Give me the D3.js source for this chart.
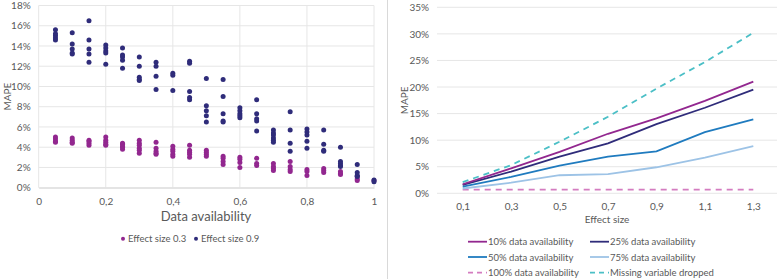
<!DOCTYPE html>
<html lang="en">
<head>
<meta charset="utf-8">
<title>MAPE by data availability and effect size</title>
<script src="https://d3js.org/d3.v7.min.js"></script>
<style>
    * { margin: 0; padding: 0; }
    body { width: 778px; height: 279px; background: #fff; overflow: hidden; }
    svg text { font-family: Lato, "Open Sans", sans-serif; fill: #595959; }
</style>
</head>
<body>
<div id="chart"></div>
<script>
    // left panel: MAPE per run, by data availability
    const availability = [0.05, 0.1, 0.15, 0.2, 0.25, 0.3, 0.35, 0.4, 0.45, 0.5,
                          0.55, 0.6, 0.65, 0.7, 0.75, 0.8, 0.85, 0.9, 0.95, 1];
    const effect03 = [
        [5.0, 4.8, 4.6, 4.5], [4.9, 4.7, 4.5, 4.4], [4.7, 4.6, 4.4, 4.2], [5.0, 4.7, 4.5, 4.3, 4.2],
        [4.4, 4.3, 4.1, 4.0, 3.8], [4.7, 4.4, 4.2, 3.9, 3.7, 3.4], [4.5, 3.9, 3.6, 3.4, 3.3],
        [4.1, 3.8, 3.6, 3.3, 3.1], [4.2, 3.7, 3.5, 3.3, 3.0], [3.7, 3.5, 3.3, 3.1],
        [3.1, 2.9, 2.6, 2.3], [3.0, 2.8, 2.5, 2.0], [2.9, 2.4, 2.2], [2.4, 2.1, 1.9, 1.7],
        [2.6, 2.1, 1.8, 1.6], [1.8, 1.6, 1.2], [1.9, 1.7, 1.5], [1.6, 1.4, 1.3],
        [1.1, 0.85, 0.7], [0.7]
    ];
    const effect09 = [
        [15.6, 15.2, 15.0, 14.8, 14.6], [15.3, 14.2, 13.7, 13.3, 13.2], [16.5, 14.6, 13.7, 13.2, 12.4],
        [14.1, 13.8, 13.5, 13.3, 12.2], [13.8, 13.1, 12.9, 12.6, 11.8], [12.9, 12.0, 10.9, 10.7, 10.6],
        [12.4, 12.0, 11.0, 9.7], [11.3, 11.1, 9.6], [12.5, 12.3, 9.5, 8.9, 8.7],
        [10.8, 8.1, 7.6, 7.1, 6.5], [10.7, 9.0, 7.3, 6.6, 6.5], [7.9, 7.6, 7.3, 7.1, 6.9],
        [8.7, 7.3, 6.8, 6.6, 5.6], [5.7, 5.4, 5.2, 4.9, 4.7, 4.5], [7.5, 5.7, 4.4, 3.6],
        [5.8, 5.5, 5.2, 4.6, 3.9], [5.7, 4.3, 3.7, 3.6], [4.0, 2.6, 2.4, 2.2, 2.1],
        [2.3, 1.5, 1.2, 1.1], [0.75, 0.6]
    ];
    const leftYTicks = [0, 2, 4, 6, 8, 10, 12, 14, 16, 18];
    const leftXTicks = [0, 0.2, 0.4, 0.6, 0.8, 1];

    // right panel: MAPE by effect size
    const effectSizes = ["0,1", "0,3", "0,5", "0,7", "0,9", "1,1", "1,3"];
    const avail10 = [1.7, 4.7, 7.8, 11.2, 14.1, 17.4, 21.0];
    const avail25 = [1.6, 4.1, 6.9, 9.4, 13.0, 16.1, 19.5];
    const avail50 = [1.25, 3.1, 5.2, 6.9, 7.9, 11.5, 13.9];
    const avail75 = [0.9, 2.0, 3.4, 3.6, 4.9, 6.7, 8.9];
    const avail100 = [0.7, 0.7, 0.7, 0.7, 0.7, 0.7, 0.7];
    const dropped = [2.1, 5.3, 9.7, 14.4, 19.7, 24.7, 30.2];
    const rightYTicks = [0, 5, 10, 15, 20, 25, 30, 35];

    const purple = "#92278f", navy = "#2f2c7a";
    const grid = "#e6e6e6";
    const comma = d => String(d).replace(".", ",");

    const svg = d3.select("#chart").append("svg")
        .attr("width", 778).attr("height", 279);

    // ---------- left scatter ----------
    const x1 = d3.scaleLinear().domain([0, 1]).range([38.7, 374]);
    const y1 = d3.scaleLinear().domain([0, 18]).range([187.7, 5.5]);

    const gl = svg.append("g");
    gl.selectAll("line.h").data(leftYTicks).enter().append("line")
        .attr("x1", x1(0)).attr("x2", x1(1))
        .attr("y1", d => y1(d)).attr("y2", d => y1(d))
        .attr("stroke", grid);
    gl.selectAll("line.v").data(leftXTicks).enter().append("line")
        .attr("x1", d => x1(d)).attr("x2", d => x1(d))
        .attr("y1", y1(0)).attr("y2", y1(18))
        .attr("stroke", grid);

    const xAxis1 = d3.axisBottom(x1).tickValues(leftXTicks).tickFormat(comma).tickSize(0).tickPadding(10);
    gl.append("g").attr("transform", `translate(0,${y1(0)})`).call(xAxis1)
        .call(g => g.select(".domain").attr("stroke", "#d9d9d9"))
        .selectAll("text").style("font-size", "10px");
    const yAxis1 = d3.axisLeft(y1).tickValues(leftYTicks).tickFormat(d => d + "%").tickSize(0).tickPadding(8);
    gl.append("g").attr("transform", `translate(${x1(0)},0)`).call(yAxis1)
        .call(g => g.select(".domain").remove())
        .selectAll("text").style("font-size", "10px");

    const flat = (series, name) => series.flatMap((vals, i) => vals.map(v => ({ x: availability[i], y: v, s: name })));
    const pts = flat(effect03, "a").concat(flat(effect09, "b"));
    gl.selectAll("circle.pt").data(pts).enter().append("circle")
        .attr("cx", d => x1(d.x)).attr("cy", d => y1(d.y)).attr("r", 2.5)
        .attr("fill", d => d.s === "a" ? purple : navy);

    gl.append("text").attr("x", 206).attr("y", 221).attr("text-anchor", "middle")
        .style("font-size", "13px").text("Data availability");
    gl.append("text").attr("transform", `translate(11,${y1(9)}) rotate(-90)`)
        .attr("text-anchor", "middle").style("font-size", "10px").text("MAPE");

    const leftLegend = [{ label: "Effect size 0.3", c: purple, x: 123 }, { label: "Effect size 0.9", c: navy, x: 196 }];
    leftLegend.forEach(d => {
        gl.append("circle").attr("cx", d.x).attr("cy", 238.7).attr("r", 2).attr("fill", d.c);
        gl.append("text").attr("x", d.x + 5).attr("y", 242).style("font-size", "9.5px").text(d.label);
    });

    // panel separator
    svg.append("line").attr("x1", 387.5).attr("x2", 387.5).attr("y1", 0).attr("y2", 279)
        .attr("stroke", "#d9d9d9");

    // ---------- right line chart ----------
    const x2 = d3.scalePoint().domain(effectSizes).range([462.7, 753.3]);
    const y2 = d3.scaleLinear().domain([0, 35]).range([193.3, 7.3]);

    const gr = svg.append("g");
    gr.selectAll("line.h").data(rightYTicks).enter().append("line")
        .attr("x1", 437).attr("x2", 777)
        .attr("y1", d => y2(d)).attr("y2", d => y2(d))
        .attr("stroke", grid);

    const xAxis2 = d3.axisBottom(x2).tickSize(0).tickPadding(10);
    gr.append("g").attr("transform", `translate(0,${y2(0)})`).call(xAxis2)
        .call(g => g.select(".domain").remove())
        .selectAll("text").style("font-size", "10px");
    const yAxis2 = d3.axisLeft(y2).tickValues(rightYTicks).tickFormat(d => d + "%").tickSize(0).tickPadding(8);
    gr.append("g").attr("transform", "translate(437,0)").call(yAxis2)
        .call(g => g.select(".domain").remove())
        .selectAll("text").style("font-size", "10px");

    const series = [
        { label: "10% data availability", v: avail10, c: purple, dash: null },
        { label: "25% data availability", v: avail25, c: navy, dash: null },
        { label: "50% data availability", v: avail50, c: "#1f7bbf", dash: null },
        { label: "75% data availability", v: avail75, c: "#9dc3e6", dash: null },
        { label: "100% data availability", v: avail100, c: "#d47cc0", dash: "6,5" },
        { label: "Missing variable dropped", v: dropped, c: "#4bbfc6", dash: "6,5" }
    ];
    const line = d3.line().x((d, i) => x2(effectSizes[i])).y(d => y2(d));
    gr.selectAll("path.s").data(series.slice().reverse()).enter().append("path")
        .attr("d", d => line(d.v))
        .attr("fill", "none").attr("stroke", d => d.c).attr("stroke-width", 1.8)
        .attr("stroke-dasharray", d => d.dash);

    gr.append("text").attr("x", 607).attr("y", 223).attr("text-anchor", "middle")
        .style("font-size", "10px").text("Effect size");
    gr.append("text").attr("transform", `translate(408,${y2(17.5)}) rotate(-90)`)
        .attr("text-anchor", "middle").style("font-size", "10px").text("MAPE");

    series.forEach((d, i) => {
        const lx = i % 2 === 0 ? 468 : 590;
        const ly = [241.7, 257, 272.7][Math.floor(i / 2)];
        gr.append("line").attr("x1", lx).attr("x2", lx + 19).attr("y1", ly).attr("y2", ly)
            .attr("stroke", d.c).attr("stroke-width", 1.8).attr("stroke-dasharray", d.dash ? "5,4" : null);
        gr.append("text").attr("x", lx + 20).attr("y", ly + 3.5).style("font-size", "9.5px").text(d.label);
    });
</script>
</body>
</html>
